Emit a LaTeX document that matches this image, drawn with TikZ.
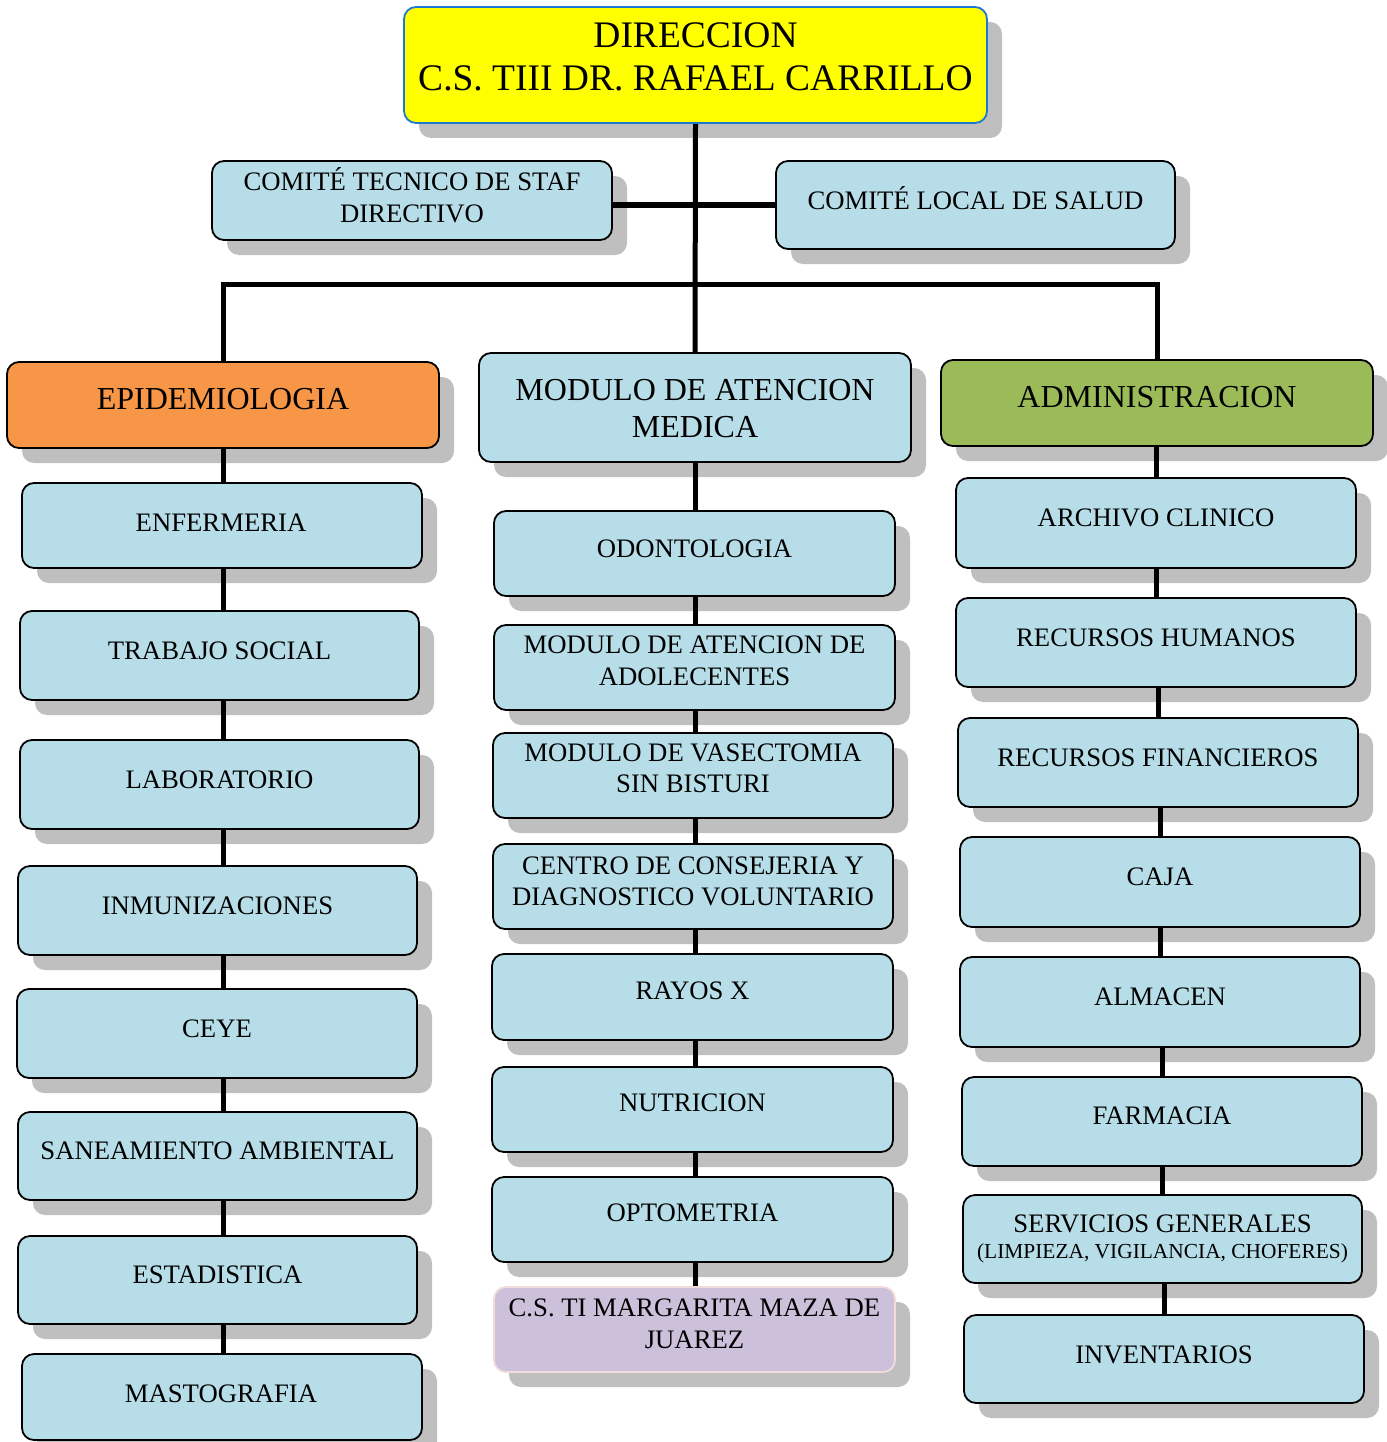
\documentclass[tikz,border=0pt]{standalone}
\usepackage{fontspec}
\setmainfont{Liberation Serif}
\usetikzlibrary{shadows}
\definecolor{boxblue}{HTML}{B7DEE8}
\definecolor{epiorange}{HTML}{F79646}
\definecolor{admgreen}{HTML}{9BBB59}
\definecolor{dirblue}{HTML}{1F78D0}
\definecolor{lilac}{HTML}{CCC0DA}
\definecolor{pinkline}{HTML}{F2DCDB}
\definecolor{diryellow}{HTML}{FFFF00}
\pgfdeclarelayer{bg}
\pgfsetlayers{bg,main}
\tikzset{
  orgbox/.style={draw=black, line width=1.8pt, rounded corners=12pt, fill=boxblue, inner sep=0pt,
    drop shadow={shadow xshift=15pt, shadow yshift=-15pt, fill=black, opacity=0.25}},
  txt/.style={font=\fontsize{26.7}{31.5}\selectfont, align=center, inner sep=0pt},
  bigtxt/.style={font=\fontsize{32}{37}\selectfont, align=center, inner sep=0pt},
  toptxt/.style={font=\fontsize{37.5}{43.5}\selectfont, align=center, inner sep=0pt},
  smalltxt/.style={font=\fontsize{21.4}{25}\selectfont, align=center, inner sep=0pt},
  conn/.style={line width=5pt, black},
}
\newcommand\orgnode[6]{%
  \node[orgbox,#1,minimum width={#5-#3},minimum height={#6-#4}] (#2) at ({(#3+#5)/2},{(#4+#6)/2}) {};}
\begin{document}
\begin{tikzpicture}[x=1pt,y=-1pt]
\useasboundingbox (0,0) rectangle (1386,1442);
% top
\orgnode{fill=diryellow,draw=dirblue}{dir}{404}{7}{987}{123}
\node[toptxt] (dir-t) at (695.5,57) {DIRECCION\\C.S. TIII DR. RAFAEL CARRILLO};
\orgnode{}{cte}{212}{161}{612}{240}
\node[txt] (cte-t) at (412,195) {COMITÉ TECNICO DE STAF\\DIRECTIVO};
\orgnode{}{cls}{776}{161}{1175}{249}
\node[txt] (cls-t) at (975.5,198.5) {COMITÉ LOCAL DE SALUD};
% heads
\orgnode{fill=epiorange}{epi}{7}{362}{439}{448}
\node[bigtxt] (epi-t) at (223,399.5) {EPIDEMIOLOGIA};
\orgnode{}{mam}{479}{353}{911}{462}
\node[bigtxt] (mam-t) at (695,409) {MODULO DE ATENCION\\MEDICA};
\orgnode{fill=admgreen}{adm}{941}{360}{1373}{446}
\node[bigtxt] (adm-t) at (1157,397.5) {ADMINISTRACION};
% left column
\orgnode{}{enf}{22}{483}{422}{568}
\node[txt] (enf-t) at (221,522.5) {ENFERMERIA};
\orgnode{}{tsoc}{20}{611}{419}{700}
\node[txt] (tsoc-t) at (219.5,651) {TRABAJO SOCIAL};
\orgnode{}{lab}{20}{740}{419}{829}
\node[txt] (lab-t) at (219.5,780) {LABORATORIO};
\orgnode{}{inm}{18}{866}{417}{955}
\node[txt] (inm-t) at (217.5,906) {INMUNIZACIONES};
\orgnode{}{ceye}{17}{989}{417}{1078}
\node[txt] (ceye-t) at (217,1029) {CEYE};
\orgnode{}{san}{18}{1112}{417}{1200}
\node[txt] (san-t) at (217.5,1151) {SANEAMIENTO AMBIENTAL};
\orgnode{}{est}{18}{1236}{417}{1324}
\node[txt] (est-t) at (217.5,1275) {ESTADISTICA};
\orgnode{}{mast}{22}{1354}{422}{1440}
\node[txt] (mast-t) at (221,1394) {MASTOGRAFIA};
% middle column
\orgnode{}{odo}{494}{511}{895}{596}
\node[txt] (odo-t) at (694.5,548.5) {ODONTOLOGIA};
\orgnode{}{ado}{494}{625}{895}{710}
\node[txt] (ado-t) at (694.5,661) {MODULO DE ATENCION DE\\ADOLECENTES};
\orgnode{}{vas}{493}{733}{893}{818}
\node[txt] (vas-t) at (693,768.5) {MODULO DE VASECTOMIA\\SIN BISTURI};
\orgnode{}{cen}{493}{844}{893}{929}
\node[txt] (cen-t) at (693,881.5) {CENTRO DE CONSEJERIA Y\\DIAGNOSTICO VOLUNTARIO};
\orgnode{}{rx}{492}{954}{893}{1040}
\node[txt] (rx-t) at (692.5,991) {RAYOS X};
\orgnode{}{nut}{492}{1067}{893}{1152}
\node[txt] (nut-t) at (692.5,1103) {NUTRICION};
\orgnode{}{opt}{492}{1177}{893}{1262}
\node[txt] (opt-t) at (692.5,1213) {OPTOMETRIA};
\orgnode{fill=lilac,draw=pinkline}{mar}{494}{1287}{895}{1372}
\node[txt] (mar-t) at (694.5,1324) {C.S. TI MARGARITA MAZA DE\\JUAREZ};
% right column
\orgnode{}{arch}{956}{478}{1356}{568}
\node[txt] (arch-t) at (1156,518) {ARCHIVO CLINICO};
\orgnode{}{rh}{956}{598}{1356}{687}
\node[txt] (rh-t) at (1156,637.5) {RECURSOS HUMANOS};
\orgnode{}{rf}{958}{718}{1358}{807}
\node[txt] (rf-t) at (1158,757.5) {RECURSOS FINANCIEROS};
\orgnode{}{caja}{960}{837}{1360}{927}
\node[txt] (caja-t) at (1160,877) {CAJA};
\orgnode{}{alm}{960}{957}{1360}{1047}
\node[txt] (alm-t) at (1160,997) {ALMACEN};
\orgnode{}{farm}{962}{1077}{1362}{1166}
\node[txt] (farm-t) at (1162,1116) {FARMACIA};
\orgnode{}{serv}{963}{1195}{1362}{1283}
\node[txt] (serv-t1) at (1162.5,1224) {SERVICIOS GENERALES};
\node[smalltxt] (serv-t2) at (1162.5,1253) {(LIMPIEZA, VIGILANCIA, CHOFERES)};
\orgnode{}{inv}{964}{1315}{1364}{1403}
\node[txt] (inv-t) at (1164,1354.5) {INVENTARIOS};
% connectors
\coordinate (colL) at (223,0);
\coordinate (hbar) at (695,284);
\begin{pgfonlayer}{bg}
\draw[conn] (dir.south) -- (mam.north);
\draw[conn] (cte.east |- cls.west) -- (cls.west);
\draw[conn] (epi.north -| colL) |- (hbar) -| (adm.north);
\draw[conn] (epi.south -| colL) -- (mast.north -| colL);
\draw[conn] (mam.south) -- (mar.north -| mam.south);
\draw[conn] (arch.north) -- (arch.north |- adm.south);
\draw[conn] (rh.north) -- (rh.north |- arch.south);
\draw[conn] (rf.north) -- (rf.north |- rh.south);
\draw[conn] (caja.north) -- (caja.north |- rf.south);
\draw[conn] (alm.north) -- (alm.north |- caja.south);
\draw[conn] (farm.north) -- (farm.north |- alm.south);
\draw[conn] (serv.north) -- (serv.north |- farm.south);
\draw[conn] (inv.north) -- (inv.north |- serv.south);
\end{pgfonlayer}
\end{tikzpicture}
\end{document}
